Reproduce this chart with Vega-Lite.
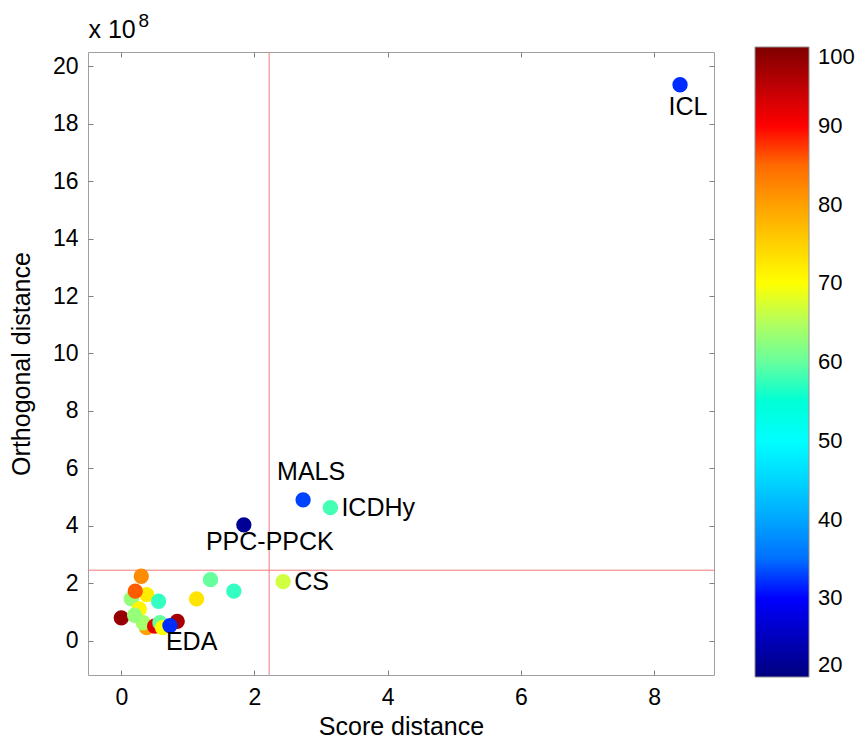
{
  "$schema": "https://vega.github.io/schema/vega-lite/v6.json",
  "autosize": {"type": "none"},
  "padding": {"left": 88, "top": 52, "right": 142, "bottom": 64},
  "width": 626,
  "height": 623,
  "background": "white",
  "config": {
    "font": "Liberation Sans",
    "view": {"stroke": "#a0a0a0", "strokeWidth": 1},
    "axis": {
      "labelFont": "Liberation Sans", "titleFont": "Liberation Sans",
      "labelFontSize": 23, "titleFontSize": 25, "labelColor": "#000", "titleColor": "#000",
      "titleFontWeight": "normal", "domainColor": "#a0a0a0", "tickColor": "#808080",
      "grid": false
    },
    "legend": {"labelFont": "Liberation Sans"}
  },
  "datasets": {
    "pts": [
      {"x": 0.30, "y": 2.24, "v": 82, "label": ""},
      {"x": 0.38, "y": 1.60, "v": 72, "label": ""},
      {"x": 0.15, "y": 1.45, "v": 63, "label": ""},
      {"x": 0.21, "y": 1.72, "v": 86, "label": ""},
      {"x": 0.56, "y": 1.37, "v": 57, "label": ""},
      {"x": 0.27, "y": 1.10, "v": 71, "label": ""},
      {"x": 0.00, "y": 0.79, "v": 98, "label": ""},
      {"x": 0.38, "y": 0.45, "v": 80, "label": ""},
      {"x": 0.33, "y": 0.62, "v": 64, "label": ""},
      {"x": 0.20, "y": 0.88, "v": 63, "label": ""},
      {"x": 0.50, "y": 0.50, "v": 92, "label": ""},
      {"x": 0.84, "y": 0.67, "v": 97, "label": ""},
      {"x": 0.58, "y": 0.62, "v": 60, "label": ""},
      {"x": 0.62, "y": 0.45, "v": 70, "label": ""},
      {"x": 0.73, "y": 0.52, "v": 31, "label": "EDA"},
      {"x": 1.34, "y": 2.12, "v": 60, "label": ""},
      {"x": 1.69, "y": 1.72, "v": 57, "label": ""},
      {"x": 1.13, "y": 1.45, "v": 73, "label": ""},
      {"x": 2.43, "y": 2.05, "v": 67, "label": "CS"},
      {"x": 1.84, "y": 4.03, "v": 22, "label": "PPC-PPCK"},
      {"x": 2.73, "y": 4.90, "v": 32, "label": "MALS"},
      {"x": 3.14, "y": 4.63, "v": 58, "label": "ICDHy"},
      {"x": 8.39, "y": 19.36, "v": 31, "label": "ICL"}
    ]
  },
  "resolve": {"axis": {"x": "independent", "y": "independent"}},
  "layer": [
    {
      "data": {"values": [{"x": 2.22}]},
      "mark": {"type": "rule", "color": "#f27c7c", "strokeWidth": 1},
      "encoding": {"x": {"field": "x", "type": "quantitative", "scale": {"domain": [-0.5, 8.9], "nice": false, "zero": false}, "axis": null}}
    },
    {
      "data": {"values": [{"y": 2.45}]},
      "mark": {"type": "rule", "color": "#f27c7c", "strokeWidth": 1},
      "encoding": {"y": {"field": "y", "type": "quantitative", "scale": {"domain": [-1.2, 20.5], "nice": false, "zero": false}, "axis": null}}
    },
    {
      "data": {"name": "pts"},
      "mark": {"type": "circle", "opacity": 0},
      "encoding": {
        "x": {"field": "x", "type": "quantitative", "axis": {"orient": "top", "values": [0, 2, 4, 6, 8], "labels": false, "title": "x 10", "titleFontSize": 25, "titleX": 0, "titleY": -15, "titleAlign": "left", "titleAnchor": null, "titleBaseline": "alphabetic", "titleAngle": 0, "tickSize": -5, "domain": false}},
        "y": {"field": "y", "type": "quantitative", "axis": {"orient": "right", "values": [0, 2, 4, 6, 8, 10, 12, 14, 16, 18, 20], "labels": false, "title": "8", "titleFontSize": 19, "titleX": -576, "titleY": -26, "titleAlign": "left", "titleAnchor": null, "titleBaseline": "alphabetic", "titleAngle": 0, "tickSize": -5, "domain": false}}
      }
    },
    {
      "data": {"name": "pts"},
      "mark": {"type": "circle", "opacity": 1, "size": 235},
      "encoding": {
        "x": {"field": "x", "type": "quantitative", "axis": {"orient": "bottom", "values": [0, 2, 4, 6, 8], "title": "Score distance", "tickSize": -5, "labelPadding": 16, "titlePadding": 5, "domain": false}},
        "y": {"field": "y", "type": "quantitative", "axis": {"orient": "left", "values": [0, 2, 4, 6, 8, 10, 12, 14, 16, 18, 20], "title": "Orthogonal distance", "tickSize": -5, "labelPadding": 15, "titlePadding": 18, "domain": false}},
        "color": {
          "field": "v", "type": "quantitative",
          "scale": {"domain": [20, 30, 50, 70, 90, 100], "range": ["#00007f", "#0000ff", "#00ffff", "#ffff00", "#ff0000", "#7f0000"]},
          "legend": {
            "orient": "none", "legendX": 667, "legendY": -5, "direction": "vertical",
            "title": null, "gradientLength": 630, "gradientThickness": 54,
            "gradientStrokeColor": "#909090", "gradientStrokeWidth": 1,
            "values": [20, 30, 40, 50, 60, 70, 80, 90, 100],
            "labelFontSize": 22, "labelColor": "#000", "labelOffset": 9, "labelOverlap": false
          }
        }
      }
    },
    {
      "data": {"name": "pts"},
      "transform": [{"filter": "datum.label == 'ICL'"}],
      "mark": {"type": "text", "fontSize": 25, "dx": 8, "dy": 22, "align": "center", "baseline": "middle", "color": "#000"},
      "encoding": {"x": {"field": "x", "type": "quantitative", "axis": null}, "y": {"field": "y", "type": "quantitative", "axis": null}, "text": {"field": "label"}}
    },
    {
      "data": {"name": "pts"},
      "transform": [{"filter": "datum.label == 'MALS'"}],
      "mark": {"type": "text", "fontSize": 25, "dx": 8, "dy": -28, "align": "center", "baseline": "middle", "color": "#000"},
      "encoding": {"x": {"field": "x", "type": "quantitative", "axis": null}, "y": {"field": "y", "type": "quantitative", "axis": null}, "text": {"field": "label"}}
    },
    {
      "data": {"name": "pts"},
      "transform": [{"filter": "datum.label == 'PPC-PPCK'"}],
      "mark": {"type": "text", "fontSize": 25, "dx": 26, "dy": 17, "align": "center", "baseline": "middle", "color": "#000"},
      "encoding": {"x": {"field": "x", "type": "quantitative", "axis": null}, "y": {"field": "y", "type": "quantitative", "axis": null}, "text": {"field": "label"}}
    },
    {
      "data": {"name": "pts"},
      "transform": [{"filter": "datum.label == 'ICDHy' || datum.label == 'CS'"}],
      "mark": {"type": "text", "fontSize": 25, "dx": 11, "dy": 0, "align": "left", "baseline": "middle", "color": "#000"},
      "encoding": {"x": {"field": "x", "type": "quantitative", "axis": null}, "y": {"field": "y", "type": "quantitative", "axis": null}, "text": {"field": "label"}}
    },
    {
      "data": {"name": "pts"},
      "transform": [{"filter": "datum.label == 'EDA'"}],
      "mark": {"type": "text", "fontSize": 25, "dx": -4, "dy": 16, "align": "left", "baseline": "middle", "color": "#000"},
      "encoding": {"x": {"field": "x", "type": "quantitative", "axis": null}, "y": {"field": "y", "type": "quantitative", "axis": null}, "text": {"field": "label"}}
    }
  ]
}
